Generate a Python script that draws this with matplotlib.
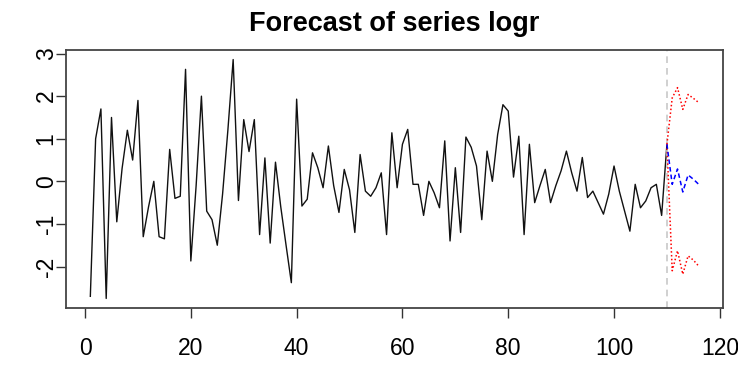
import matplotlib
matplotlib.use("Agg")
import matplotlib.pyplot as plt
import numpy as np

plt.rcParams['font.family'] = ['Liberation Sans', 'DejaVu Sans']
plt.rcParams['axes.unicode_minus'] = False

# observed series logr (t = 1..110)
logr = [-2.7, 1.0, 1.7, -2.75, 1.5, -0.95, 0.3, 1.2, 0.5, 1.9,
        -1.3, -0.6, 0.0, -1.3, -1.35, 0.75, -0.4, -0.35, 2.63, -1.87,
        -0.1, 2.0, -0.7, -0.9, -1.5, -0.3, 1.2, 2.86, -0.45, 1.45,
        0.7, 1.45, -1.25, 0.55, -1.45, 0.45, -0.6, -1.5, -2.38, 1.93,
        -0.58, -0.42, 0.67, 0.32, -0.15, 0.83, -0.1, -0.73, 0.28, -0.2,
        -1.2, 0.63, -0.23, -0.35, -0.15, 0.2, -1.25, 1.14, -0.15, 0.87,
        1.22, -0.07, -0.07, -0.8, 0.0, -0.27, -0.62, 0.95, -1.4, 0.32,
        -1.2, 1.04, 0.8, 0.36, -0.9, 0.71, 0.0, 1.1, 1.8, 1.65,
        0.1, 1.06, -1.25, 0.87, -0.5, -0.1, 0.28, -0.5, -0.1, 0.25,
        0.71, 0.2, -0.23, 0.56, -0.38, -0.23, -0.5, -0.77, -0.3, 0.36,
        -0.23, -0.7, -1.17, -0.07, -0.62, -0.46, -0.15, -0.07, -0.8, 0.87]

# forecasts (t = 111..116)
fc_mean = [-0.07, 0.29, -0.25, 0.15, 0.05, -0.07]
fc_upper = [1.96, 2.2, 1.69, 2.04, 1.95, 1.85]
fc_lower = [-2.1, -1.63, -2.18, -1.75, -1.85, -1.99]

xticks = [0, 20, 40, 60, 80, 100, 120]
yticks = [-2, -1, 0, 1, 2, 3]
title = "Forecast of series logr"

n = len(logr)
t = np.arange(1, n + 1)
h = len(fc_mean)
tf = np.arange(n, n + h + 1)

fig = plt.figure(figsize=(7.38, 3.69), dpi=100)
ax = fig.add_axes([66/738, 1 - 308/369, (723 - 66)/738, (308 - 50)/369])

ax.plot(t, logr, color='#111111', lw=1.0)
ax.axvline(n, color='#c8c8c8', lw=1.2, ls=(0, (4, 3)))
ax.plot(tf, [logr[-1]] + fc_upper, color='red', lw=1.1, ls=(0, (1, 1.5)))
ax.plot(tf, [logr[-1]] + fc_lower, color='red', lw=1.1, ls=(0, (1, 1.5)))
ax.plot(tf, [logr[-1]] + fc_mean, color='blue', lw=1.1, ls=(0, (3, 2)))

allx = np.concatenate([t, tf])
xr = allx.max() - allx.min()
ax.set_xlim(allx.min() - 0.04 * xr, allx.max() + 0.04 * xr)
ally = logr + fc_upper + fc_lower
yr = max(ally) - min(ally)
ax.set_ylim(min(ally) - 0.04 * yr, max(ally) + 0.04 * yr)

ax.set_xticks(xticks)
ax.set_yticks(yticks)
ax.tick_params(direction='out', length=7, width=1.0, color='#333333',
               labelsize=16.5)
ax.tick_params(axis='x', pad=14)
ax.tick_params(axis='y', pad=-1)
for lab in ax.get_yticklabels():
    lab.set_rotation(90)
    lab.set_va('center')
for s in ax.spines.values():
    s.set_color('#444444')
    s.set_linewidth(1.3)

fig.text((66 + 723) / 2 / 738, 1 - 24/369, title, ha='center', va='center',
         fontsize=19.5, fontweight='bold')

fig.savefig('out.png', dpi=100)
